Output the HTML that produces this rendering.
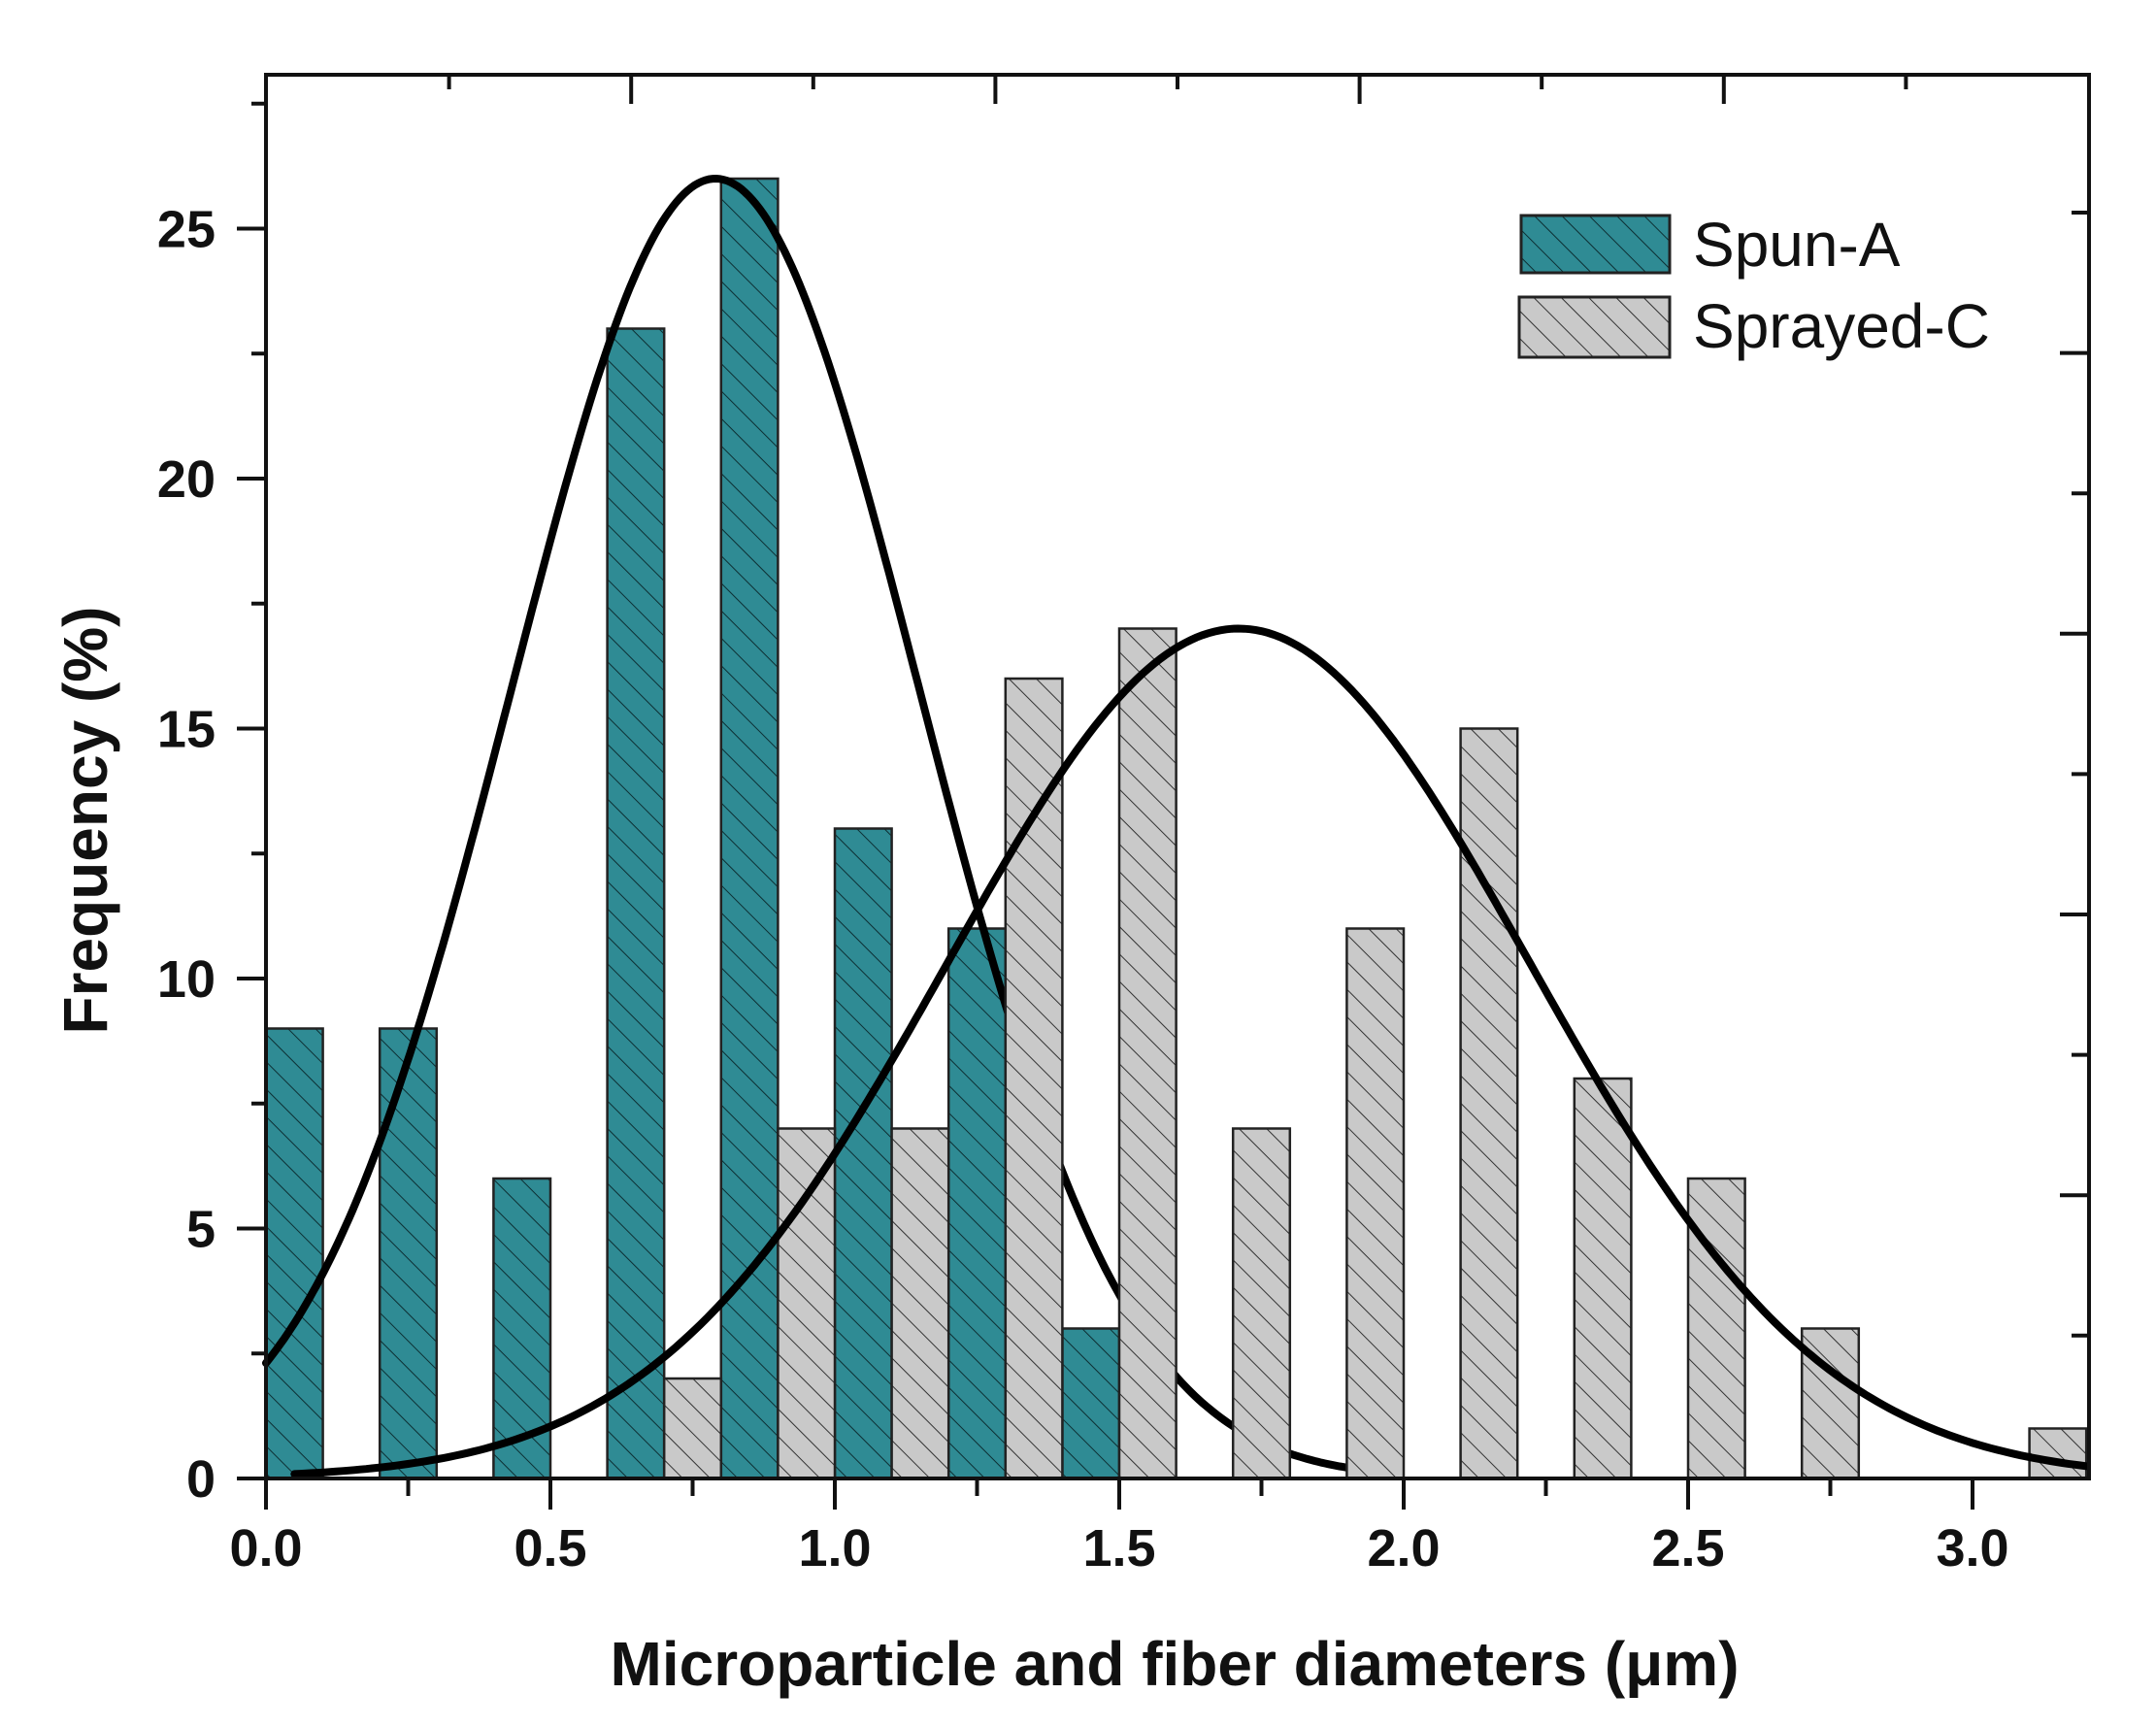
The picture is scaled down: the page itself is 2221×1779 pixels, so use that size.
<!DOCTYPE html>
<html><head><meta charset="utf-8"><style>
html,body{margin:0;padding:0;background:#fff;}
svg{display:block;font-family:"Liberation Sans",Arial,sans-serif;}
</style></head><body>
<svg id="chart" width="2221" height="1779" viewBox="0 0 2221 1779" xmlns="http://www.w3.org/2000/svg">
<defs>
<pattern id="hatchA" patternUnits="userSpaceOnUse" width="20" height="20" patternTransform="rotate(-45)">
<rect width="20" height="20" fill="#2f8b94"/><line x1="0" y1="0" x2="0" y2="20" stroke="#0d2f33" stroke-width="2"/></pattern>
<pattern id="hatchC" patternUnits="userSpaceOnUse" width="20" height="20" patternTransform="rotate(-45)">
<rect width="20" height="20" fill="#c9c9c9"/><line x1="0" y1="0" x2="0" y2="20" stroke="#333" stroke-width="2"/></pattern>
</defs>
<g id="layer"></g>
</svg>
<script>
const spunStarts=[0,0.2,0.4,0.6,0.8,1.0,1.2,1.4];
const spunValues=[9,9,6,23,26,13,11,3];
const sprayStarts=[0.7,0.9,1.1,1.3,1.5,1.7,1.9,2.1,2.3,2.5,2.7,3.1];
const sprayValues=[2,7,7,16,17,7,11,15,8,6,3,1];
const spunFit={amp:26,mean:0.79,sd:0.359,from:0,to:1.9};
const sprayFit={amp:17,mean:1.71,sd:0.512,from:0.05,to:3.2};
const xTicks=["0.0","0.5","1.0","1.5","2.0","2.5","3.0"];
const yTicks=["0","5","10","15","20","25"];
const binWidth=0.1;

const L=274,R=2152,T=77,B=1523;
const X0=0,X1=(R-L)/586,Y0=0,Y1=(B-T)/51.5;
function sx(v){return L+(v-X0)/(X1-X0)*(R-L);}
function sy(v){return B-(v-Y0)/(Y1-Y0)*(B-T);}
const NS="http://www.w3.org/2000/svg";
const g=document.getElementById('layer');
function mk(tag,attrs,parent){const e=document.createElementNS(NS,tag);for(const k in attrs)e.setAttribute(k,attrs[k]);(parent||g).appendChild(e);return e;}

function bars(starts,vals,fill,name){
  starts.forEach((s,i)=>{
    const r=mk('rect',{x:sx(s),y:sy(vals[i]),width:sx(s+binWidth)-sx(s),height:sy(0)-sy(vals[i]),fill:fill,stroke:'#222','stroke-width':2.5});
    
    
  });
}
function curve(f,name){
  let d='';
  for(let i=0;i<=300;i++){const x=f.from+(f.to-f.from)*i/300;const y=f.amp*Math.exp(-Math.pow(x-f.mean,2)/(2*f.sd*f.sd));d+=(i?'L':'M')+sx(x).toFixed(1)+' '+sy(y).toFixed(1);}
  const p=mk('path',{d:d,fill:'none',stroke:'#000','stroke-width':8,'stroke-linecap':'round'});
  
  
}
bars(spunStarts,spunValues,'url(#hatchA)','spun-a');
curve(spunFit,'spun-a-fit-curve');
bars(sprayStarts,sprayValues,'url(#hatchC)','sprayed-c');
curve(sprayFit,'sprayed-c-fit-curve');

// frame
const fr=mk('rect',{x:L,y:T,width:R-L,height:B-T,fill:'none',stroke:'#111','stroke-width':4});



// x ticks
for(let v=0;v<=3.2001;v+=0.25){
  const maj=Math.abs(v*2-Math.round(v*2))<1e-6;
  mk('line',{x1:sx(v),x2:sx(v),y1:B,y2:B+(maj?32:18),stroke:'#111','stroke-width':4});
}
xTicks.forEach(t=>{
  const e=mk('text',{x:sx(parseFloat(t)),y:1613,'text-anchor':'middle','font-size':54,'font-weight':'bold',fill:'#111'});
  e.textContent=t;
  
  
});
// y ticks
for(let v=0;v<=27.6;v+=2.5){
  const maj=Math.abs(v/5-Math.round(v/5))<1e-6;
  mk('line',{x1:L,x2:L-(maj?30:15),y1:sy(v),y2:sy(v),stroke:'#111','stroke-width':4});
}
yTicks.forEach(t=>{
  const e=mk('text',{x:222,y:sy(parseFloat(t))+19,'text-anchor':'end','font-size':54,'font-weight':'bold',fill:'#111'});
  e.textContent=t;
  
  
});
// top ticks (inside)
for(let i=1;i<=12;i++){
  const x=275+187.6*i; if(x>R-5)break;
  mk('line',{x1:x,x2:x,y1:T,y2:T+(i%2===0?30:15),stroke:'#111','stroke-width':4});
}
// right ticks (inside)
for(let i=0;i<=10;i++){
  const y=219+144.6*i; if(y>B-5)break;
  mk('line',{x1:R,x2:R-(i%2===1?30:18),y1:y,y2:y,stroke:'#111','stroke-width':4});
}
// titles
const xt=mk('text',{x:1210,y:1736,'text-anchor':'middle','font-size':64,'font-weight':'bold',fill:'#111'});
xt.textContent='Microparticle and fiber diameters (\u03BCm)';


const yt=mk('text',{x:0,y:0,'text-anchor':'middle','font-size':64,'font-weight':'bold',fill:'#111',transform:'translate(110,845) rotate(-90)'});
yt.textContent='Frequency (%)';


// legend
const lg=mk('g',{});


mk('rect',{x:1567,y:222,width:153,height:59,fill:'url(#hatchA)',stroke:'#222','stroke-width':3},lg);
mk('rect',{x:1565,y:306,width:155,height:62,fill:'url(#hatchC)',stroke:'#222','stroke-width':3},lg);
const l1=mk('text',{x:1744,y:274,'font-size':64,fill:'#111'},lg);l1.textContent='Spun-A';


const l2=mk('text',{x:1744,y:358,'font-size':64,fill:'#111'},lg);l2.textContent='Sprayed-C';


</script>
</body></html>
